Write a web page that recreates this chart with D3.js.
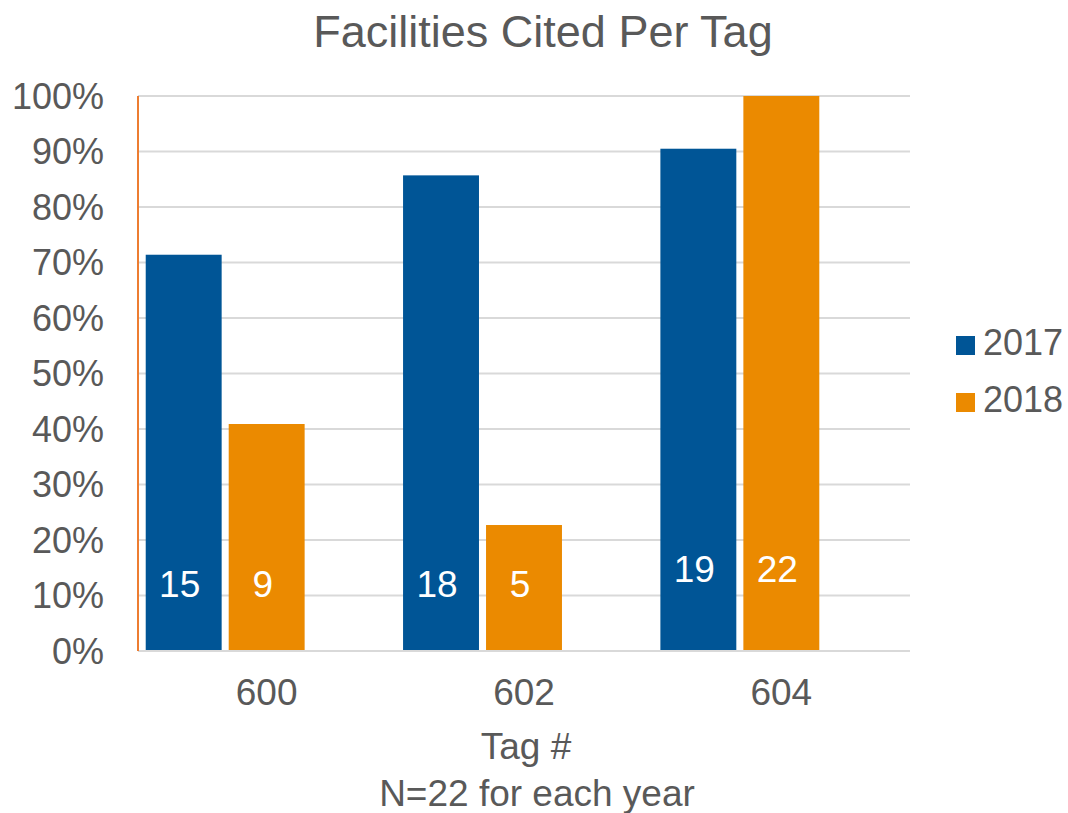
<!DOCTYPE html>
<meta charset="utf-8">
<title>Facilities Cited Per Tag</title>
<style>
body { margin: 0; background: #fff; }
text { font-family: "Liberation Sans", Arial, sans-serif; fill: #595959; }
.grid line { stroke: #d9d9d9; stroke-width: 2; }
</style>
<body>
<div id="chart"></div>
<script src="https://cdn.jsdelivr.net/npm/d3@7"></script>
<script>
  // data
  var tags = ["600", "602", "604"];
  var years = ["2017", "2018"];
  var pct2017 = [0.714, 0.857, 0.905];
  var pct2018 = [0.409, 0.227, 1.0];
  var count2017 = [15, 18, 19];
  var count2018 = [9, 5, 22];
  var yTicks = [0, 0.1, 0.2, 0.3, 0.4, 0.5, 0.6, 0.7, 0.8, 0.9, 1.0];

  var colors = {"2017": "#005596", "2018": "#eb8a00"};

  var margin = {top: 96, right: 158, bottom: 162, left: 138},
      width = 1068 - margin.left - margin.right,
      height = 813 - margin.top - margin.bottom;

  var svg = d3.select("#chart").append("svg")
      .attr("width", 1068)
      .attr("height", 813);

  var g = svg.append("g")
      .attr("transform", "translate(" + margin.left + "," + margin.top + ")");

  var x0 = d3.scaleBand().domain(tags).range([0, width])
      .paddingInner(0.06).paddingOuter(0.03);
  // third slot is left empty, like the source chart
  var x1 = d3.scaleBand().domain(years.concat(["_"])).range([0, x0.bandwidth()])
      .paddingInner(0.085);
  var y = d3.scaleLinear().domain([0, 1]).range([height, 0]);

  // gridlines
  g.append("g").attr("class", "grid")
    .selectAll("line").data(yTicks).enter().append("line")
      .attr("x1", 0).attr("x2", width)
      .attr("y1", function(d) { return y(d); })
      .attr("y2", function(d) { return y(d); });

  // y tick labels
  g.append("g").selectAll("text").data(yTicks).enter().append("text")
      .attr("x", -34)
      .attr("y", function(d) { return y(d); })
      .attr("dy", "0.35em")
      .attr("text-anchor", "end")
      .style("font-size", "36px")
      .text(d3.format(".0%"));

  var rows = [];
  tags.forEach(function(t, i) {
    rows.push({tag: t, year: "2017", v: pct2017[i], n: count2017[i]});
    rows.push({tag: t, year: "2018", v: pct2018[i], n: count2018[i]});
  });

  g.append("g").selectAll("rect").data(rows).enter().append("rect")
      .attr("x", function(d) { return x0(d.tag) + x1(d.year); })
      .attr("y", function(d) { return y(d.v); })
      .attr("width", x1.bandwidth())
      .attr("height", function(d) { return height - y(d.v); })
      .attr("fill", function(d) { return colors[d.year]; });

  // count labels near the bar base (604 ones sit a bit higher)
  g.append("g").selectAll("text").data(rows).enter().append("text")
      .attr("x", function(d) { return x0(d.tag) + x1(d.year) + x1.bandwidth() / 2 - 4; })
      .attr("y", function(d) { return height - (d.tag == "604" ? 69 : 54); })
      .attr("text-anchor", "middle")
      .style("font-size", "37px")
      .style("fill", "#fff")
      .text(function(d) { return d.n; });

  // axis lines
  g.append("line").attr("x1", 0).attr("x2", width)
      .attr("y1", height).attr("y2", height)
      .attr("stroke", "#d9d9d9").attr("stroke-width", 2);
  g.append("line").attr("x1", 0).attr("x2", 0)
      .attr("y1", 0).attr("y2", height)
      .attr("stroke", "#ed7d31").attr("stroke-width", 2);

  // category labels
  g.append("g").selectAll("text").data(tags).enter().append("text")
      .attr("x", function(d) { return x0(d) + x0.bandwidth() / 2; })
      .attr("y", height + 54)
      .attr("text-anchor", "middle")
      .style("font-size", "37px")
      .text(function(d) { return d; });

  g.append("text")
      .attr("x", width / 2 + 2).attr("y", height + 108)
      .attr("text-anchor", "middle")
      .style("font-size", "37px")
      .text("Tag #");
  g.append("text")
      .attr("x", width / 2 + 13).attr("y", height + 155)
      .attr("text-anchor", "middle")
      .style("font-size", "37px")
      .text("N=22 for each year");

  // title
  svg.append("text")
      .attr("x", 543).attr("y", 47)
      .attr("text-anchor", "middle")
      .style("font-size", "45px")
      .text("Facilities Cited Per Tag");

  // legend
  var legend = svg.append("g").attr("transform", "translate(956,336)")
    .selectAll("g").data(years).enter().append("g")
      .attr("transform", function(d, i) { return "translate(0," + i * 57 + ")"; });
  legend.append("rect").attr("width", 19).attr("height", 19)
      .attr("fill", function(d) { return colors[d]; });
  legend.append("text").attr("x", 27).attr("y", 19)
      .style("font-size", "36px")
      .text(function(d) { return d; });
</script>
</body>
</html>
